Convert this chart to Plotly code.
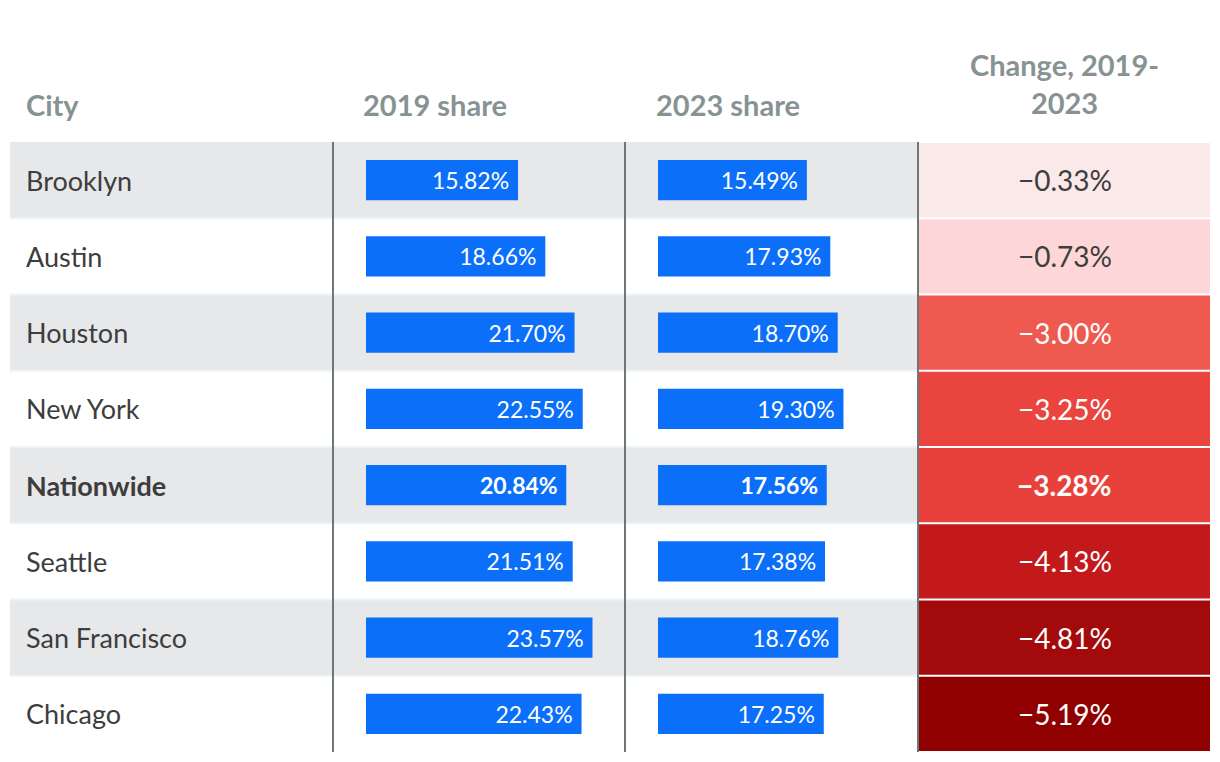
import plotly.graph_objects as go

cities = ["Brooklyn", "Austin", "Houston", "New York", "Nationwide", "Seattle", "San Francisco", "Chicago"]
share_2019 = [15.82, 18.66, 21.70, 22.55, 20.84, 21.51, 23.57, 22.43]
share_2023 = [15.49, 17.93, 18.70, 19.30, 17.56, 17.38, 18.76, 17.25]
change = [-0.33, -0.73, -3.00, -3.25, -3.28, -4.13, -4.81, -5.19]
headers = ["City", "2019 share", "2023 share", "Change, 2019-<br>2023"]
highlight = "Nationwide"

W, H = 1220, 762
OFF = 8  # page body margin offset
FONT = "Lato"
BLUE = "#0b6ffa"
HEAD = "#879393"
TXT = "#3d3d3d"
GRAY = "#e7e8ea"
SEP = "#edf3f8"
VLINE = "#6d7777"

PXPP = 9.61  # pixels per percentage point
def px(x): return (x - OFF) / W
def py(y): return 1 - (y - OFF) / H

top, bottom = 142, 752
ys = list(range(len(cities)))
bold = [c == highlight for c in cities]

def fmt(v, b, pad=""):
    s = (f"{v:.2f}%").replace("-", "\u2212") + pad
    return f"<b>{s}</b>" if b else s

fig = go.Figure()

for vals, ax in [(share_2019, "x"), (share_2023, "x2")]:
    fig.add_trace(go.Bar(
        x=vals, y=ys, orientation="h", xaxis=ax, yaxis="y",
        width=0.53, marker=dict(color=BLUE, line=dict(width=0)),
        text=[fmt(v, b, "\u00a0") for v, b in zip(vals, bold)],
        textposition="inside", insidetextanchor="end", constraintext="none",
        textfont=dict(family=FONT, size=23, color="white"),
        hoverinfo="skip", showlegend=False))

cmin, cmax = min(change), max(change)
fig.add_trace(go.Bar(
    x=[1] * len(change), y=ys, orientation="h", xaxis="x3", yaxis="y",
    width=0.975,
    marker=dict(color=change, cmin=cmin, cmax=cmax, line=dict(width=0),
                colorscale=[[0, "#900000"], [0.08, "#a20a0b"], [0.22, "#c4191b"],
                            [0.39, "#e8403a"], [0.45, "#ef5a50"], [0.92, "#fdd8d8"],
                            [1, "#fbe9e9"]]),
    hoverinfo="skip", showlegend=False))

ydom = [py(bottom), py(top)]
fig.update_layout(
    width=W, height=H, margin=dict(l=0, r=0, t=0, b=0),
    paper_bgcolor="white", plot_bgcolor="rgba(0,0,0,0)",
    font=dict(family=FONT, color=TXT),
    xaxis=dict(domain=[px(366), px(625)], range=[0, (625 - 366) / PXPP], visible=False),
    xaxis2=dict(domain=[px(658), px(918)], range=[0, (918 - 658) / PXPP], visible=False),
    xaxis3=dict(domain=[px(919), px(1210)], range=[0, 1], visible=False),
    yaxis=dict(domain=ydom, range=[len(cities) - 0.5, -0.5], visible=False),
)

shapes = []
for i in ys:
    if i % 2 == 0:
        shapes.append(dict(type="rect", xref="paper", yref="y", x0=px(10), x1=px(918),
                           y0=i - 0.5, y1=i + 0.5, fillcolor=GRAY, line=dict(width=0),
                           layer="below"))
    if i > 0:
        shapes.append(dict(type="line", xref="paper", yref="y", x0=px(10), x1=px(918),
                           y0=i - 0.5, y1=i - 0.5, line=dict(color=SEP, width=2),
                           layer="below"))
for xv in [333, 625, 918]:
    shapes.append(dict(type="line", xref="paper", yref="paper", x0=px(xv), x1=px(xv),
                       y0=py(bottom), y1=py(top), line=dict(color=VLINE, width=2)))

annotations = []
for c, i, b in zip(cities, ys, bold):
    annotations.append(dict(xref="paper", yref="y", x=px(24), y=i, xanchor="left",
                            yanchor="middle", showarrow=False,
                            text=f"<b>{c}</b>" if b else c,
                            font=dict(family=FONT, size=27, color=TXT)))
for v, i, b in zip(change, ys, bold):
    annotations.append(dict(xref="x3", yref="y", x=0.5, y=i, xanchor="center",
                            yanchor="middle", showarrow=False, text=fmt(v, b),
                            font=dict(family=FONT, size=28,
                                      color=TXT if v > -1 else "white")))
head_pos = [(24, 104, "left"), (361, 104, "left"), (654, 104, "left"), (1064, 84, "center")]
for h, (hx, hy, anc) in zip(headers, head_pos):
    annotations.append(dict(xref="paper", yref="paper", x=px(hx), y=py(hy),
                            xanchor=anc, yanchor="middle", showarrow=False,
                            text="<br>".join(f"<b>{p}</b>" for p in h.split("<br>")),
                            align="center",
                            font=dict(family=FONT, size=29, color=HEAD)))

fig.update_layout(shapes=shapes, annotations=annotations)
fig.write_html("out.html")
